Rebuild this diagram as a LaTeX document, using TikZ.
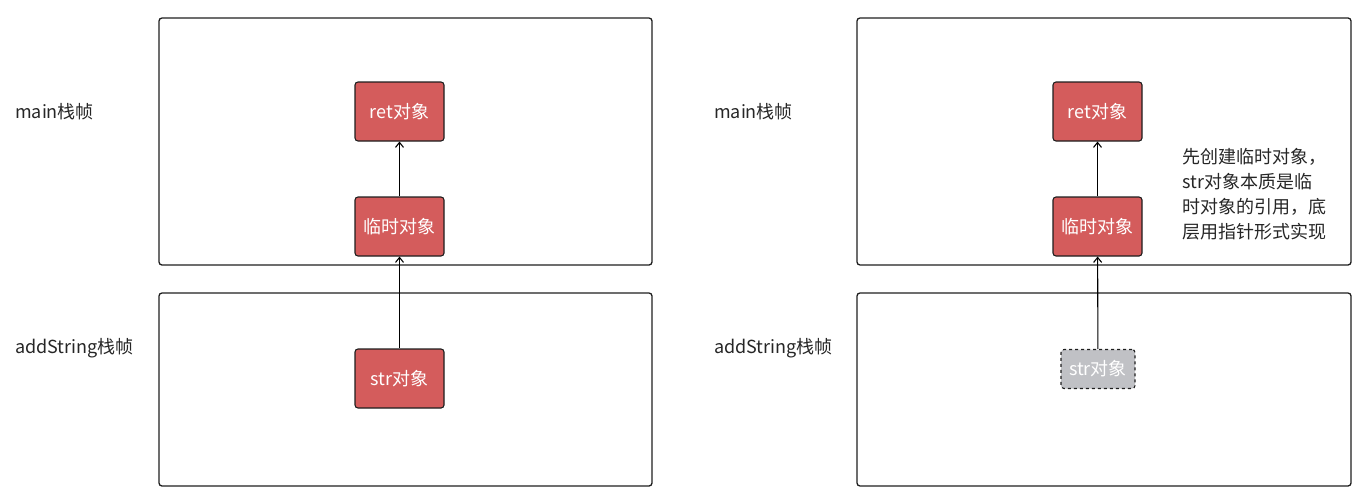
\documentclass[tikz,border=0pt]{standalone}
\usepackage{fontspec}
\setmainfont{Noto Sans CJK SC}
\usetikzlibrary{arrows.meta}
\definecolor{objred}{RGB}{212,92,92}
\definecolor{objgray}{RGB}{192,193,197}
\definecolor{frameline}{RGB}{30,30,30}
\begin{document}
\begin{tikzpicture}[x=1pt,y=-1pt,
  frame/.style={draw=frameline,line width=1.3pt,rounded corners=3pt},
  obj/.style={draw=frameline,line width=1.1pt,rounded corners=3pt,fill=objred,text=white,
    minimum width=89pt,minimum height=59pt,inner sep=0pt,font=\fontsize{18}{21}\selectfont},
  ghost/.style={draw=frameline,line width=1.1pt,dashed,rounded corners=3pt,fill=objgray,text=white,
    minimum width=74pt,minimum height=39pt,inner sep=0pt,font=\fontsize{18}{21}\selectfont},
  lbl/.style={anchor=west,inner sep=0pt,font=\fontsize{18}{21}\selectfont,text=black!85},
  link/.style={draw=black,line width=1.1pt,-{Straight Barb[length=5pt,width=8pt]}}]
\useasboundingbox (0,0) rectangle (1356,490);
% frames
\draw[frame] (159,18) rectangle (652,265);
\draw[frame] (159,293) rectangle (652,486);
\draw[frame] (857,18) rectangle (1351,265);
\draw[frame] (857,293) rectangle (1351,486);
% labels
\node[lbl] (lm1) at (15,112) {main栈帧};
\node[lbl] (la1) at (15,348) {addString栈帧};
\node[lbl] (lm2) at (714,112) {main栈帧};
\node[lbl] (la2) at (714,348) {addString栈帧};
% left objects
\node[obj] (ret1) at (399.5,111.5) {ret对象};
\node[obj] (tmp1) at (399.5,226.5) {临时对象};
\node[obj] (str1) at (399.5,378.5) {str对象};
\draw[link] (tmp1) -- (ret1);
\draw[link] (str1) -- (tmp1);
% right objects
\node[obj] (ret2) at (1097.5,111.5) {ret对象};
\node[obj] (tmp2) at (1097.5,226.5) {临时对象};
\node[ghost] (str2) at (1098,369) {str对象};
\draw[link] (tmp2) -- (ret2);
\draw[link] (str2) -- (tmp2);
% note
\node[anchor=west,align=left,inner sep=0pt,font=\fontsize{18}{25}\selectfont,text=black!85] (note) at (1182,194.5)
  {先创建临时对象，\\str对象本质是临\\时对象的引用，底\\层用指针形式实现};
\end{tikzpicture}
\end{document}
